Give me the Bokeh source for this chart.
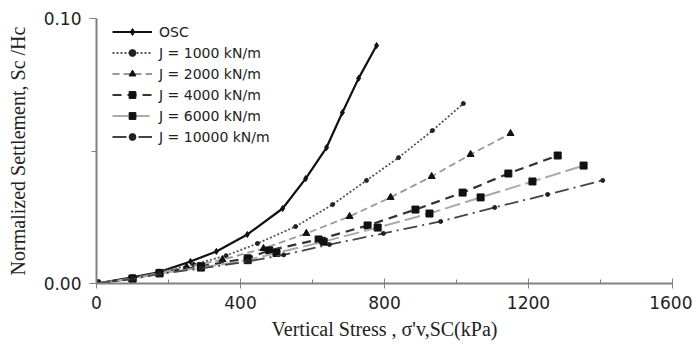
from bokeh.plotting import figure
from bokeh.models import FixedTicker, NumeralTickFormatter, Legend, LegendItem
from bokeh.embed import file_html
from bokeh.resources import INLINE

# Data
osc_x = [0, 100, 172, 261, 333, 419, 517, 581, 639, 683, 728, 778]
osc_y = [0, 0.0023, 0.0042, 0.0083, 0.0121, 0.0185, 0.0283, 0.0396, 0.0513, 0.0645, 0.0774, 0.0898]

j1000_x = [0, 100, 175, 270, 360, 447, 553, 656, 750, 839, 933, 1019]
j1000_y = [0, 0.0020, 0.0043, 0.0072, 0.0105, 0.0151, 0.0215, 0.0298, 0.0389, 0.0475, 0.0577, 0.0679]

j2000_x = [0, 100, 175, 250, 350, 464, 583, 703, 817, 931, 1039, 1150]
j2000_y = [0, 0.0020, 0.0040, 0.0062, 0.0090, 0.0132, 0.0189, 0.0253, 0.0325, 0.0404, 0.0487, 0.0566]

j4000_x = [0, 100, 175, 290, 420, 480, 617, 753, 886, 1017, 1144, 1281]
j4000_y = [0, 0.0019, 0.0040, 0.0065, 0.0095, 0.0125, 0.0166, 0.0219, 0.0279, 0.0343, 0.0415, 0.0483]

j6000_x = [0, 100, 175, 290, 420, 500, 631, 781, 925, 1067, 1211, 1353]
j6000_y = [0, 0.0018, 0.0038, 0.0060, 0.0088, 0.0115, 0.0158, 0.0211, 0.0264, 0.0325, 0.0385, 0.0445]

j10000_x = [0, 100, 175, 290, 420, 520, 647, 797, 956, 1106, 1253, 1406]
j10000_y = [0, 0.0017, 0.0036, 0.0057, 0.0083, 0.0108, 0.0147, 0.0189, 0.0234, 0.0287, 0.0336, 0.0389]

labels = ["OSC", "J = 1000 kN/m", "J = 2000 kN/m", "J = 4000 kN/m", "J = 6000 kN/m", "J = 10000 kN/m"]
x_ticks = [0, 400, 800, 1200, 1600]
x_minor = [200, 600, 1000, 1400]
y_ticks = [0, 0.10]
y_minor = [0.05]

p = figure(width=692, height=347, output_backend="svg", toolbar_location=None,
           x_range=(0, 1600), y_range=(0, 0.10),
           min_border_left=96, min_border_right=20, min_border_top=18, min_border_bottom=64)
p.outline_line_color = None
p.xgrid.visible = False
p.ygrid.visible = False
p.background_fill_color = "white"
p.border_fill_color = "white"

series = [
    (osc_x, osc_y, dict(line_color="#111111", line_width=2.2, line_dash="solid"), dict(marker="diamond", size=6, color="#111111")),
    (j1000_x, j1000_y, dict(line_color="#555555", line_width=1.8, line_dash="2 2"), dict(marker="circle", size=4, color="#222222")),
    (j2000_x, j2000_y, dict(line_color="#999999", line_width=1.8, line_dash="7 4"), dict(marker="triangle", size=7, color="#111111")),
    (j4000_x, j4000_y, dict(line_color="#333333", line_width=2.2, line_dash="9 6"), dict(marker="square", size=7, color="#111111")),
    (j6000_x, j6000_y, dict(line_color="#aaaaaa", line_width=2.0, line_dash="16 5"), dict(marker="square", size=7, color="#111111")),
    (j10000_x, j10000_y, dict(line_color="#444444", line_width=1.8, line_dash="14 5 2 5"), dict(marker="circle", size=4, color="#222222")),
]

items = []
for (xs, ys, lkw, mkw), lab in zip(series, labels):
    r1 = p.line(xs, ys, **lkw)
    r2 = p.scatter(xs, ys, marker=mkw["marker"], size=mkw["size"], fill_color=mkw["color"], line_color=mkw["color"])
    items.append(LegendItem(label=lab, renderers=[r1, r2]))

legend = Legend(items=items, location=(16, 138))
legend.border_line_color = None
legend.background_fill_alpha = 0
legend.padding = 0
legend.margin = 0
legend.spacing = 4
legend.glyph_width = 40
legend.glyph_height = 17
legend.label_height = 17
legend.label_standoff = 7
legend.label_text_font = "DejaVu Sans"
legend.label_text_font_size = "14px"
legend.label_text_color = "#222222"
p.add_layout(legend)

ax = p.xaxis[0]
ax.ticker = FixedTicker(ticks=x_ticks, minor_ticks=x_minor)
ax.axis_line_color = "#808080"
ax.axis_line_width = 2
ax.major_tick_line_color = "#808080"
ax.minor_tick_line_color = "#808080"
ax.major_tick_in = 5
ax.major_tick_out = 5
ax.minor_tick_in = 4
ax.minor_tick_out = 0
ax.major_label_text_font = "DejaVu Sans"
ax.major_label_text_font_size = "17px"
ax.major_label_text_color = "#222222"
ax.major_label_standoff = 7
ax.axis_label = "Vertical Stress , σ'v,SC(kPa)"
ax.axis_label_text_font = "Liberation Serif"
ax.axis_label_text_font_style = "normal"
ax.axis_label_text_font_size = "20px"
ax.axis_label_text_color = "#222222"
ax.axis_label_standoff = 6

ay = p.yaxis[0]
ay.ticker = FixedTicker(ticks=y_ticks, minor_ticks=y_minor)
ay.formatter = NumeralTickFormatter(format="0.00")
ay.axis_line_color = "#808080"
ay.axis_line_width = 2
ay.major_tick_line_color = "#808080"
ay.minor_tick_line_color = "#808080"
ay.major_tick_in = 0
ay.major_tick_out = 7
ay.minor_tick_in = 0
ay.minor_tick_out = 5
ay.major_label_text_font = "DejaVu Sans"
ay.major_label_text_font_size = "17px"
ay.major_label_text_color = "#222222"
ay.major_label_standoff = 8
ay.axis_label = "Normalized Settlement, Sc /Hc"
ay.axis_label_text_font = "Liberation Serif"
ay.axis_label_text_font_style = "normal"
ay.axis_label_text_font_size = "20px"
ay.axis_label_text_color = "#222222"
ay.axis_label_standoff = 12

open("out.html", "w").write(file_html(p, INLINE))
